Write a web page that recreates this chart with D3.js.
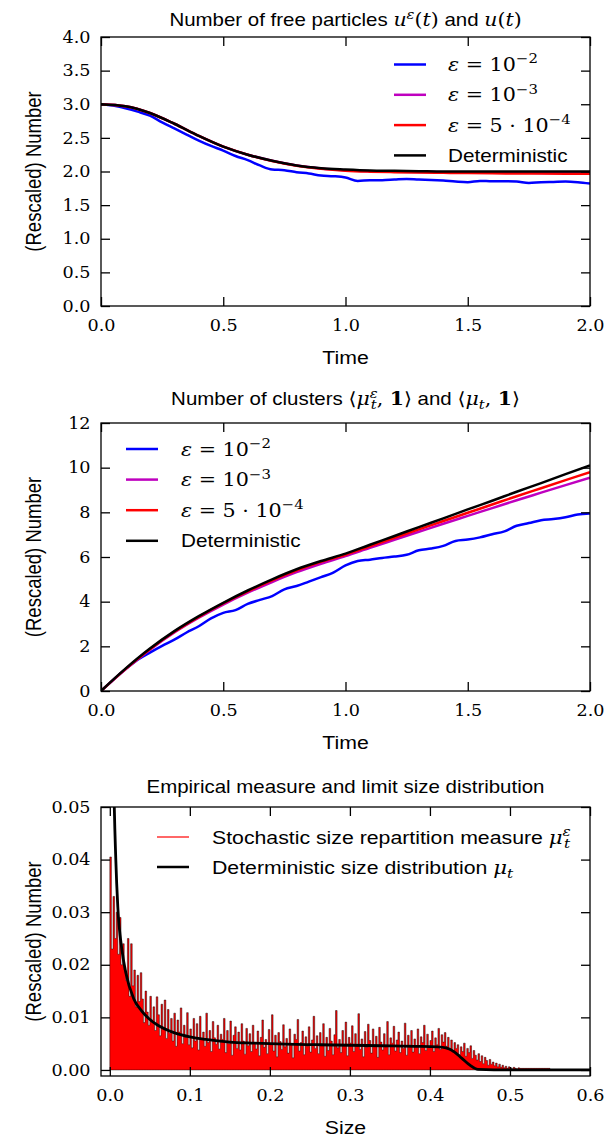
<!DOCTYPE html>
<html>
<head>
<meta charset="utf-8">
<script src="https://cdn.jsdelivr.net/npm/d3@7"></script>
<style>
  body { margin: 0; background: #fff; }
  svg { display: block; }
</style>
</head>
<body>
<script>
// ---- data ----
var tCoarse = [0, 0.1, 0.2, 0.3, 0.4, 0.5, 0.6, 0.7, 0.8, 0.9, 1.0, 1.1, 1.2, 1.3, 1.4, 1.5, 1.6, 1.7, 1.8, 1.9, 2.0];
var tFine = [0, 0.05, 0.1, 0.15, 0.2, 0.25, 0.3, 0.35, 0.4, 0.45, 0.5, 0.55, 0.6, 0.65, 0.7, 0.75, 0.8, 0.85, 0.9, 0.95,
             1.0, 1.05, 1.1, 1.15, 1.2, 1.25, 1.3, 1.35, 1.4, 1.45, 1.5, 1.55, 1.6, 1.65, 1.7, 1.75, 1.8, 1.85, 1.9, 1.95, 2.0];

// panel 1: free particles
var freeDet  = [3.0, 2.97, 2.87, 2.71, 2.53, 2.37, 2.25, 2.16, 2.09, 2.05, 2.03, 2.015, 2.01, 2.005, 2.0, 2.0, 2.0, 2.0, 2.0, 2.0, 2.0];
var freeEps3 = [3.0, 2.97, 2.87, 2.71, 2.53, 2.37, 2.25, 2.16, 2.09, 2.045, 2.02, 2.005, 1.998, 1.993, 1.99, 1.986, 1.983, 1.981, 1.979, 1.977, 1.975];
var freeEps4 = [3.0, 2.97, 2.87, 2.71, 2.53, 2.37, 2.25, 2.155, 2.085, 2.04, 2.012, 1.998, 1.99, 1.984, 1.98, 1.976, 1.973, 1.971, 1.969, 1.967, 1.965];
var freeEps2 = [3.0, 2.98, 2.94, 2.89, 2.83, 2.73, 2.64, 2.55, 2.46, 2.38, 2.31, 2.23, 2.17, 2.09, 2.03, 2.02, 1.99, 1.97, 1.94, 1.93,
                1.91, 1.86, 1.87, 1.87, 1.88, 1.89, 1.88, 1.875, 1.865, 1.85, 1.84, 1.86, 1.855, 1.855, 1.85, 1.83, 1.84, 1.845, 1.85, 1.84, 1.82];

// panel 2: clusters
var clusDet  = [0, 1.0, 1.9, 2.68, 3.35, 3.95, 4.5, 5.0, 5.45, 5.82, 6.15, 6.55, 6.94, 7.34, 7.73, 8.13, 8.52, 8.92, 9.31, 9.71, 10.1];
var clusEps4 = [0, 0.98, 1.87, 2.65, 3.32, 3.92, 4.46, 4.95, 5.4, 5.78, 6.1, 6.48, 6.86, 7.24, 7.61, 7.98, 8.35, 8.72, 9.08, 9.44, 9.8];
var clusEps3 = [0, 0.97, 1.85, 2.62, 3.28, 3.87, 4.4, 4.88, 5.32, 5.7, 6.04, 6.41, 6.77, 7.13, 7.49, 7.84, 8.19, 8.54, 8.88, 9.22, 9.55];
var clusEps2 = [0, 0.5, 0.97, 1.4, 1.72, 2.02, 2.3, 2.62, 2.9, 3.25, 3.5, 3.62, 3.9, 4.08, 4.25, 4.55, 4.7, 4.9, 5.1, 5.3,
                5.62, 5.82, 5.88, 5.96, 6.02, 6.1, 6.3, 6.38, 6.5, 6.72, 6.78, 6.88, 7.02, 7.15, 7.4, 7.52, 7.65, 7.7, 7.78, 7.9, 7.95];

// panel 3: size distribution
var sizeGrid = [0.0025, 0.005, 0.0075, 0.01, 0.015, 0.02, 0.03, 0.04, 0.05, 0.06, 0.08, 0.1, 0.12, 0.15, 0.18, 0.22, 0.26,
                0.3, 0.34, 0.38, 0.41, 0.42, 0.43, 0.44, 0.45, 0.46, 0.5, 0.6];
var sizeDet  = [0.09, 0.055, 0.04, 0.031, 0.023, 0.0185, 0.0135, 0.0112, 0.0096, 0.0085, 0.0071, 0.0063, 0.0058, 0.0053, 0.0051,
                0.0049, 0.0048, 0.0047, 0.0046, 0.0045, 0.0044, 0.0042, 0.0035, 0.0022, 0.0009, 0.0001, 0, 0];
var binWidth = 0.002;
var sizeHist = [
  0.0405, 0.023, 0.033, 0.025, 0.03, 0.022, 0.029, 0.02, 0.024, 0.019,
  0.017, 0.025, 0.014, 0.024, 0.016, 0.019, 0.012, 0.018, 0.013, 0.0185,
  0.0135, 0.009, 0.015, 0.011, 0.0085, 0.014, 0.0095, 0.012, 0.0075, 0.0139,
  0.0105, 0.0065, 0.0125, 0.008, 0.0133, 0.006, 0.0115, 0.007, 0.0098, 0.0055,
  0.0108, 0.0045, 0.0095, 0.0072, 0.0118, 0.005, 0.0085, 0.0062, 0.0109, 0.0048,
  0.0078, 0.0042, 0.0098, 0.0055, 0.0088, 0.0038, 0.0102, 0.006, 0.0072, 0.0045,
  0.0108, 0.0052, 0.0075, 0.0035, 0.0092, 0.0061, 0.0049, 0.0085, 0.004, 0.0068,
  0.0058, 0.0098, 0.0033, 0.0075, 0.005, 0.0093, 0.0028, 0.0066, 0.0082, 0.0041,
  0.0072, 0.0038, 0.0088, 0.0055, 0.003, 0.0079, 0.0046, 0.0069, 0.0035, 0.0085,
  0.0052, 0.004, 0.0074, 0.0027, 0.0062, 0.0095, 0.0043, 0.0058, 0.0031, 0.0077,
  0.0048, 0.0105, 0.0036, 0.0066, 0.0025, 0.0071, 0.0054, 0.0039, 0.0086, 0.0044,
  0.006, 0.0032, 0.0078, 0.0049, 0.0023, 0.0068, 0.0058, 0.0096, 0.0036, 0.0052,
  0.0074, 0.0029, 0.0063, 0.0045, 0.0082, 0.0034, 0.0057, 0.0102, 0.0041, 0.0065,
  0.0031, 0.0071, 0.0049, 0.0088, 0.0026, 0.0062, 0.0037, 0.0079, 0.0055, 0.0029,
  0.0067, 0.0113, 0.0042, 0.0058, 0.0033, 0.0075, 0.0048, 0.0091, 0.0027, 0.0062,
  0.0051, 0.0084, 0.0035, 0.0069, 0.0046, 0.0107, 0.0039, 0.0059, 0.0025, 0.0073,
  0.0043, 0.0087, 0.0056, 0.0032, 0.0078, 0.0047, 0.0064, 0.0024, 0.0081, 0.0053,
  0.0038, 0.0069, 0.0044, 0.0092, 0.0029, 0.0061, 0.0051, 0.0083, 0.0036, 0.0057,
  0.0072, 0.0033, 0.0055, 0.0041, 0.0089, 0.0028, 0.0066, 0.0047, 0.0075, 0.0034,
  0.0059, 0.0046, 0.0078, 0.0031, 0.0063, 0.0052, 0.0085, 0.0037, 0.0068, 0.0043,
  0.0056, 0.0074, 0.0035, 0.0061, 0.0048, 0.0079, 0.0039, 0.0067, 0.0053, 0.0071,
  0.0045, 0.0062, 0.0038, 0.0057, 0.0034, 0.0052, 0.0041, 0.0048, 0.0029, 0.0044,
  0.0035, 0.0051, 0.0026, 0.0041, 0.0033, 0.0046, 0.0022, 0.0037, 0.0028, 0.0019,
  0.0031, 0.0016, 0.0027, 0.0012, 0.0024, 0.0018, 0.0009, 0.002, 0.0011, 0.0015,
  0.0008, 0.0013, 0.0006, 0.0011, 0.0005, 0.0009, 0.0004, 0.0007, 0.0003, 0.0006,
  0.0004, 0.0002, 0.0005, 0.0003, 0.0002, 0.0004, 0.0003, 0.0003, 0.0003, 0.0003,
  0.0003, 0.0003, 0.0003, 0.0003, 0.0003, 0.0003, 0.0003, 0.0003, 0.0003, 0.0003,
  0.0003, 0.0003, 0.0003, 0.0003, 0.0003
];

var timeTicks = [0, 0.5, 1.0, 1.5, 2.0];
var freeTicks = [0, 0.5, 1.0, 1.5, 2.0, 2.5, 3.0, 3.5, 4.0];
var clusTicks = [0, 2, 4, 6, 8, 10, 12];
var sizeTicks = [0, 0.1, 0.2, 0.3, 0.4, 0.5, 0.6];
var histTicks = [0, 0.01, 0.02, 0.03, 0.04, 0.05];

var SANS = '"Liberation Sans", Arial, Helvetica, sans-serif';
var SERIF = '"DejaVu Serif", serif';
var STRETCH = 1.15;   // the reference text is drawn wide

var svg = d3.select('body').append('svg').attr('width', 605).attr('height', 1137);

// text made of pieces: [string, kind, dx] with kind sans | mi (math italic) | mr (math roman) | sup | sub | bold
function richText(sel, x, y, parts, size, anchor) {
    var t = sel.append('g').attr('transform', 'translate(' + x + ',' + y + ') scale(' + STRETCH + ',1)')
        .append('text').attr('font-size', size)
        .attr('text-anchor', anchor || 'start').attr('fill', '#000');
    var off = 0;
    parts.forEach(function(p) {
        var kind = p[1], shift = 0, fs = size;
        if (kind.indexOf('sup') >= 0) { shift = -0.42 * size; fs = size * 0.72; }
        if (kind.indexOf('sub') >= 0) { shift = 0.24 * size; fs = size * 0.72; }
        var s = t.append('tspan').text(p[0]).attr('font-size', fs).attr('dy', shift - off);
        if (p[2]) s.attr('dx', p[2]);
        off = shift;
        if (kind.indexOf('sans') >= 0) s.attr('font-family', SANS);
        else s.attr('font-family', SERIF);
        if (kind.indexOf('mi') >= 0) s.attr('font-style', 'italic');
        if (kind.indexOf('bold') >= 0) s.attr('font-weight', 'bold');
    });
    return t;
}

function panel(o) {
    var left = 101, right = 590;
    var x = d3.scaleLinear().domain(o.xDomain).range([left, right]);
    var y = d3.scaleLinear().domain(o.yDomain).range([o.bottom, o.top]);
    var g = svg.append('g');

    g.append('clipPath').attr('id', o.id + '-clip')
        .append('rect').attr('x', left).attr('y', o.top).attr('width', right - left).attr('height', o.bottom - o.top);
    var plot = g.append('g').attr('clip-path', 'url(#' + o.id + '-clip)');

    function styleAxis(a) {
        a.select('.domain').remove();
        a.selectAll('line').attr('stroke', '#000').attr('stroke-width', 1.3);
        a.selectAll('text').attr('font-family', SERIF).attr('font-size', 16).attr('fill', '#000')
            .attr('transform', 'scale(1.1,1)');
    }
    g.append('g').attr('transform', 'translate(0,' + o.bottom + ')')
        .call(d3.axisBottom(x).tickValues(o.xTicks).tickFormat(d3.format(o.xFmt)).tickSize(-9).tickPadding(14))
        .call(styleAxis);
    g.append('g').attr('transform', 'translate(0,' + o.top + ')')
        .call(d3.axisTop(x).tickValues(o.xTicks).tickFormat('').tickSize(-9))
        .call(styleAxis);
    g.append('g').attr('transform', 'translate(' + left + ',0)')
        .call(d3.axisLeft(y).tickValues(o.yTicks).tickFormat(d3.format(o.yFmt)).tickSize(-9).tickPadding(9.5))
        .call(styleAxis);
    g.append('g').attr('transform', 'translate(' + right + ',0)')
        .call(d3.axisRight(y).tickValues(o.yTicks).tickFormat('').tickSize(-9))
        .call(styleAxis);

    richText(g, (left + right) / 2, o.bottom + 58, [[o.xLabel, 'sans']], 18.5, 'middle');
    g.append('text').attr('transform', 'translate(41,' + (o.top + o.bottom) / 2 + ') rotate(-90) scale(1,' + STRETCH + ')')
        .attr('text-anchor', 'middle').attr('font-family', SANS).attr('font-size', 18.5).text('(Rescaled) Number');
    richText(g, (left + right) / 2, o.top + o.titleDy, o.title, 17.8, 'middle');

    return { x: x, y: y, g: g, plot: plot, left: left, right: right, top: o.top, bottom: o.bottom };
}

function frame(p) {
    p.g.append('rect').attr('x', p.left).attr('y', p.top).attr('width', p.right - p.left).attr('height', p.bottom - p.top)
        .attr('fill', 'none').attr('stroke', '#000').attr('stroke-width', 1.3);
}

function drawLine(p, xs, ys, color, w) {
    var line = d3.line().x(function(d, i) { return p.x(xs[i]); }).y(function(d) { return p.y(d); }).curve(d3.curveMonotoneX);
    p.plot.append('path').datum(ys).attr('d', line).attr('fill', 'none').attr('stroke', color).attr('stroke-width', w)
        .attr('stroke-linejoin', 'round');
}

var colors = { eps2: '#0000ff', eps3: '#bf00bf', eps4: '#ff0000', det: '#000000' };

function epsLabel(exp, five) {
    return [['ε', 'mi'], [' = ' + (five ? '5 · ' : '') + '10', 'mr'], ['−' + exp, 'mr sup']];
}

function legend(p, x0, y0, dy, items) {
    items.forEach(function(it, i) {
        var yy = y0 + i * dy;
        p.g.append('line').attr('x1', x0).attr('x2', x0 + 32).attr('y1', yy).attr('y2', yy)
            .attr('stroke', it.color).attr('stroke-width', it.w);
        richText(p.g, x0 + it.gap, yy + 6.5, it.parts, it.size || 18, 'start');
    });
}

// ---- panel 1 ----
var p1 = panel({
    id: 'p1', top: 37, bottom: 306, xDomain: [0, 2], yDomain: [0, 4], titleDy: -11,
    xTicks: timeTicks, yTicks: freeTicks, xFmt: '.1f', yFmt: '.1f', xLabel: 'Time',
    title: [['Number of free particles ', 'sans'], ['u', 'mi'], ['ε', 'mi sup'], ['(', 'mr'], ['t', 'mi'], [')', 'mr'],
            [' and ', 'sans'], ['u', 'mi'], ['(', 'mr'], ['t', 'mi'], [')', 'mr']]
});
drawLine(p1, tFine, freeEps2, colors.eps2, 2.5);
drawLine(p1, tCoarse, freeEps3, colors.eps3, 2.5);
drawLine(p1, tCoarse, freeEps4, colors.eps4, 2.5);
drawLine(p1, tCoarse, freeDet, colors.det, 2.5);
frame(p1);
legend(p1, 394, 64.5, 30.3, [
    { color: colors.eps2, w: 2.5, gap: 54, parts: epsLabel(2) },
    { color: colors.eps3, w: 2.5, gap: 54, parts: epsLabel(3) },
    { color: colors.eps4, w: 2.5, gap: 54, parts: epsLabel(4, true) },
    { color: colors.det, w: 2.5, gap: 54, parts: [['Deterministic', 'sans']] }
]);

// ---- panel 2 ----
var p2 = panel({
    id: 'p2', top: 423, bottom: 691, xDomain: [0, 2], yDomain: [0, 12], titleDy: -18,
    xTicks: timeTicks, yTicks: clusTicks, xFmt: '.1f', yFmt: 'd', xLabel: 'Time',
    title: [['Number of clusters ', 'sans'], ['⟨', 'mr'], ['μ', 'mi'], ['ε', 'mi sup'], ['t', 'mi sub', -6], [', ', 'mr'], ['1', 'mr bold'], ['⟩', 'mr'],
            [' and ', 'sans'], ['⟨', 'mr'], ['μ', 'mi'], ['t', 'mi sub'], [', ', 'mr'], ['1', 'mr bold'], ['⟩', 'mr']]
});
drawLine(p2, tFine, clusEps2, colors.eps2, 2.5);
drawLine(p2, tCoarse, clusEps3, colors.eps3, 2.5);
drawLine(p2, tCoarse, clusEps4, colors.eps4, 2.5);
drawLine(p2, tCoarse, clusDet, colors.det, 2.5);
frame(p2);
legend(p2, 126, 449, 30.6, [
    { color: colors.eps2, w: 2.5, gap: 55, parts: epsLabel(2) },
    { color: colors.eps3, w: 2.5, gap: 55, parts: epsLabel(3) },
    { color: colors.eps4, w: 2.5, gap: 55, parts: epsLabel(4, true) },
    { color: colors.det, w: 2.5, gap: 55, parts: [['Deterministic', 'sans']] }
]);

// ---- panel 3 ----
var p3 = panel({
    id: 'p3', top: 807, bottom: 1076, xDomain: [-0.011, 0.6], yDomain: [-0.00115, 0.05], titleDy: -14,
    xTicks: sizeTicks, yTicks: histTicks, xFmt: '.1f', yFmt: '.2f', xLabel: 'Size',
    title: [['Empirical measure and limit size distribution', 'sans']]
});
var hist = sizeHist.map(function(v, i) { return { x: i * binWidth, v: v }; });
hist.push({ x: sizeHist.length * binWidth, v: sizeHist[sizeHist.length - 1] });
var area = d3.area().curve(d3.curveStepAfter)
    .x(function(d) { return p3.x(d.x); }).y0(p3.y(0)).y1(function(d) { return p3.y(d.v); });
p3.plot.append('path').datum(hist).attr('d', area).attr('fill', '#ff0000').attr('stroke', '#000').attr('stroke-width', 0.45);
var detLine = d3.line().curve(d3.curveMonotoneX)
    .x(function(d, i) { return p3.x(sizeGrid[i]); }).y(function(d) { return p3.y(d); });
p3.plot.append('path').datum(sizeDet).attr('d', detLine).attr('fill', 'none').attr('stroke', '#000').attr('stroke-width', 2.8);
frame(p3);
legend(p3, 157, 837, 30, [
    { color: '#ff0000', w: 1.2, gap: 55, size: 18.5, parts: [['Stochastic size repartition measure ', 'sans'], ['μ', 'mi'], ['ε', 'mi sup'], ['t', 'mi sub', -6]] },
    { color: '#000', w: 2.5, gap: 55, size: 18.5, parts: [['Deterministic size distribution ', 'sans'], ['μ', 'mi'], ['t', 'mi sub']] }
]);
</script>
</body>
</html>
